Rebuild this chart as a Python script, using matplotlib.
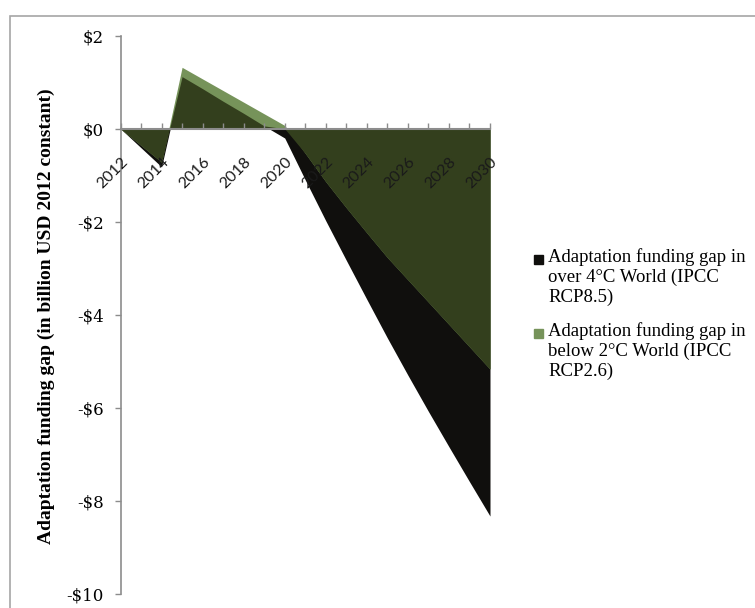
import numpy as np
import matplotlib.pyplot as plt
from matplotlib.patches import Rectangle

years = np.arange(2012, 2031)
# over 4C world (IPCC RCP8.5)
gap_rcp85 = np.array([0, -0.41, -0.82, 1.12, 0.86, 0.59, 0.33, 0.06, -0.2,
                      -1.1, -1.98, -2.83, -3.67, -4.5, -5.3, -6.08, -6.84, -7.59, -8.33])
# below 2C world (IPCC RCP2.6)
gap_rcp26 = np.array([0, -0.36, -0.72, 1.32, 1.07, 0.82, 0.57, 0.32, 0.07,
                      -0.53, -1.14, -1.7, -2.24, -2.77, -3.25, -3.73, -4.21, -4.69, -5.17])
yticks = [-10, -8, -6, -4, -2, 0, 2]
labels = ["Adaptation funding gap in\nover 4°C World (IPCC\nRCP8.5)",
          "Adaptation funding gap in\nbelow 2°C World (IPCC\nRCP2.6)"]

black = "#100f0d"
light_green = "#76935a"
dark_green = "#333f1d"
grey = "#8c8c8c"

W, H = 755, 608
fig = plt.figure(figsize=(7.55, 6.08), dpi=100)
ax = fig.add_axes([120.5 / W, 1 - 593.7 / H, 369.5 / W, 558 / H])

# overlap of both areas shows darker
same = np.sign(gap_rcp85) == np.sign(gap_rcp26)
overlap = np.where(same, np.sign(gap_rcp85) * np.minimum(abs(gap_rcp85), abs(gap_rcp26)), 0)

ax.fill_between(years, 0, gap_rcp85, color=black, lw=0, zorder=1)
ax.fill_between(years, 0, gap_rcp26, color=light_green, lw=0, zorder=1.1)
ax.fill_between(years, 0, overlap, color=dark_green, lw=0, zorder=1.2)

ax.set_xlim(2012, 2030)
ax.set_ylim(-10, 2)

for s in ["top", "right"]:
    ax.spines[s].set_visible(False)
ax.spines["left"].set_color(grey)
ax.spines["bottom"].set_color(grey)
ax.spines["bottom"].set_position(("data", 0))
ax.spines["bottom"].set_zorder(5)
ax.spines["left"].set_linewidth(1.2)
ax.spines["bottom"].set_linewidth(1.5)
ax.xaxis.set_zorder(6)

ax.set_yticks(yticks)
ax.set_yticklabels([f"${v}" if v >= 0 else f"-${-v}" for v in yticks],
                   family="DejaVu Serif", fontsize=12)
ax.tick_params(axis="y", direction="out", length=4, color=grey, width=1, pad=8)

ax.set_xticks(years)
ax.set_xticklabels([str(y) if y % 2 == 0 else "" for y in years], rotation=45,
                   ha="right", va="top", rotation_mode="anchor",
                   family="Lato", fontsize=11.5, color="#1a1a1a")
ax.tick_params(axis="x", direction="in", length=4, color=grey, width=1, pad=19)

fig.text(46 / W, 1 - 316 / H, "Adaptation funding gap (in billion USD 2012 constant)",
         rotation=90, ha="center", va="center", family="Liberation Serif",
         fontweight="bold", fontsize=14)

# legend drawn by hand so the square sits on the first line
for lab, col, y in zip(labels, [black, light_green], [259, 333]):
    fig.patches.append(Rectangle((534 / W, 1 - (y + 4.5) / H), 9 / W, 9 / H,
                                 color=col, transform=fig.transFigure))
    fig.text(548 / W, 1 - (y - 11) / H, lab, ha="left", va="top",
             family="Liberation Serif", fontsize=13.5, linespacing=1.22)

fig.patches.append(Rectangle((10 / W, -0.5), 2, 0.5 + 1 - 16 / H, fill=False,
                             edgecolor="#a6a6a6", lw=1.2, transform=fig.transFigure))

plt.savefig("out.png", dpi=100)
plt.close()
